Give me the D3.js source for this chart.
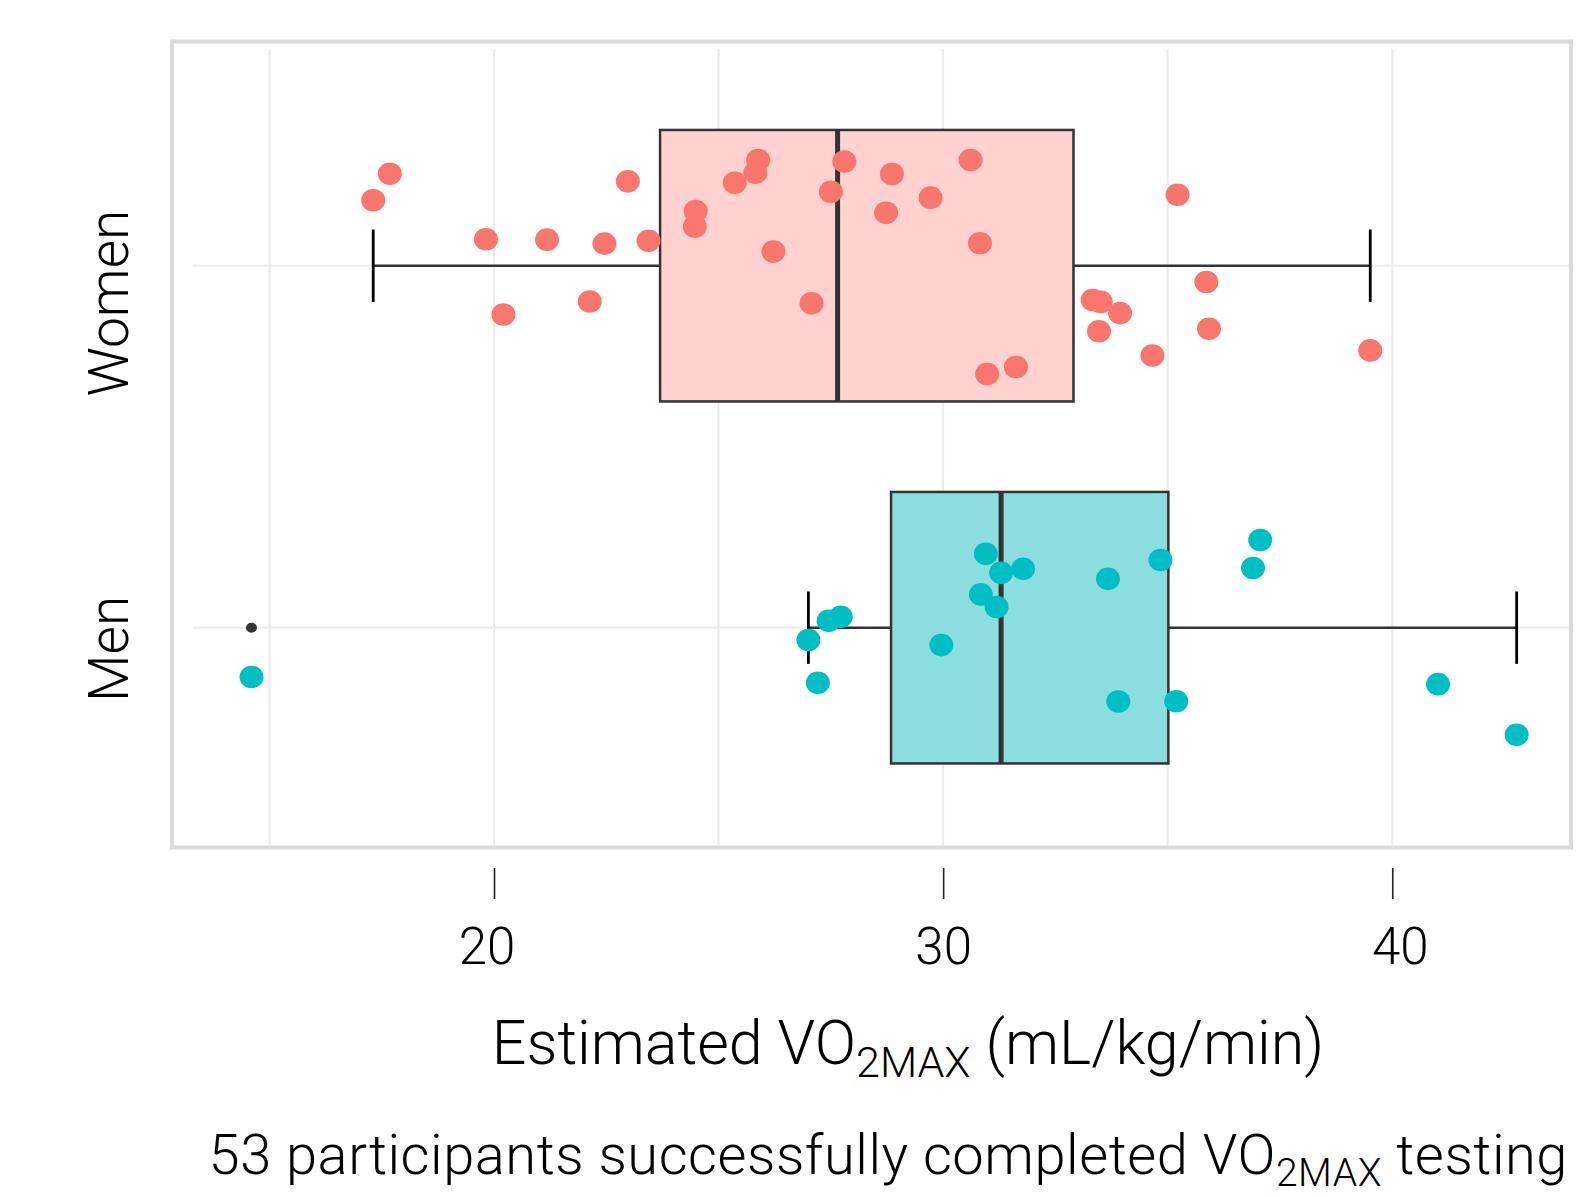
<!DOCTYPE html>
<html>
<head>
<meta charset="utf-8">
<script src="https://cdn.jsdelivr.net/npm/d3@7"></script>
<style>
  body { margin: 0; background: #fff; }
  text { font-family: Roboto, "Liberation Sans", sans-serif; font-weight: 300; fill: #000; }
</style>
</head>
<body>
<script>
// Data
const categories = ['Women', 'Men'];
const womenValues = [17.31, 17.68, 19.82, 20.21, 21.18, 22.13, 22.46, 22.98, 23.44, 24.47, 24.49, 25.36, 25.82, 25.88, 26.22, 27.07, 27.50, 27.80, 28.73, 28.86, 29.72, 30.61, 30.82, 30.98, 31.62, 33.33, 33.47, 33.51, 33.94, 34.66, 35.22, 35.86, 35.92, 39.51];
const womenJitter = [0.181, 0.254, 0.073, -0.135, 0.072, -0.099, 0.061, 0.233, 0.069, 0.108, 0.151, 0.229, 0.257, 0.292, 0.039, -0.104, 0.204, 0.288, 0.146, 0.253, 0.188, 0.292, 0.062, -0.299, -0.280, -0.095, -0.181, -0.100, -0.131, -0.248, 0.196, -0.045, -0.174, -0.234];
const menValues = [14.60, 27.00, 27.21, 27.45, 27.72, 29.96, 30.84, 30.95, 31.19, 31.29, 31.78, 33.67, 33.90, 34.84, 35.19, 36.90, 37.06, 41.02, 42.77];
const menJitter = [-0.136, -0.034, -0.152, 0.019, 0.030, -0.048, 0.092, 0.204, 0.057, 0.152, 0.163, 0.135, -0.204, 0.187, -0.203, 0.165, 0.242, -0.156, -0.296];
const majorTicks = [20, 30, 40];
const minorTicks = [15, 25, 35];
const pointColors = ['#F8766D', '#00BFC4'];
const boxFills = ['#FFD1CF', '#8BDDE0'];

const W = 1576, H = 1197;
const panel = { left: 172, right: 1571, top: 41.5, bottom: 847.5 };

const svg = d3.select('body')
  .append('svg')
  .attr('width', W)
  .attr('height', H);

// Scales
const x = d3.scaleLinear()
  .domain([12.83, 43.98])
  .range([panel.left, panel.right]);

const y = d3.scalePoint()
  .domain(categories)
  .range([265.7, 627.7]);

const step = y.step();

// Build groups + box stats (type 7 quantiles like ggplot)
const groups = categories.map((cat, i) => {
  const vals = i === 0 ? womenValues : menValues;
  const jit = i === 0 ? womenJitter : menJitter;
  const sorted = vals.slice().sort(d3.ascending);
  const q1 = d3.quantile(sorted, 0.25);
  const med = d3.quantile(sorted, 0.5);
  const q3 = d3.quantile(sorted, 0.75);
  const iqr = q3 - q1;
  const inside = sorted.filter(v => v >= q1 - 1.5 * iqr && v <= q3 + 1.5 * iqr);
  return {
    cat, q1, med, q3,
    lo: d3.min(inside), hi: d3.max(inside),
    outliers: sorted.filter(v => v < q1 - 1.5 * iqr || v > q3 + 1.5 * iqr),
    points: vals.map((v, k) => ({ v, j: jit[k] })),
    color: pointColors[i], fill: boxFills[i]
  };
});

// Gridlines
const grid = svg.append('g');
grid.selectAll('.vgrid')
  .data(minorTicks.concat(majorTicks))
  .enter().append('line')
  .attr('x1', d => x(d)).attr('x2', d => x(d))
  .attr('y1', 49).attr('y2', 845)
  .attr('stroke', '#EBEBEB')
  .attr('stroke-width', 2);

grid.selectAll('.hgrid')
  .data(categories)
  .enter().append('line')
  .attr('x1', 193).attr('x2', 1569)
  .attr('y1', d => y(d)).attr('y2', d => y(d))
  .attr('stroke', '#EBEBEB')
  .attr('stroke-width', 2);

// Panel border
svg.append('rect')
  .attr('x', panel.left).attr('y', panel.top)
  .attr('width', panel.right - panel.left)
  .attr('height', panel.bottom - panel.top)
  .attr('fill', 'none')
  .attr('stroke', '#DADADA')
  .attr('stroke-width', 4);

// Boxplots
const boxes = svg.selectAll('.box')
  .data(groups)
  .enter().append('g');

// whiskers
boxes.append('line')
  .attr('x1', d => x(d.lo)).attr('x2', d => x(d.q1))
  .attr('y1', d => y(d.cat)).attr('y2', d => y(d.cat))
  .attr('stroke', '#333').attr('stroke-width', 2.5);
boxes.append('line')
  .attr('x1', d => x(d.q3)).attr('x2', d => x(d.hi))
  .attr('y1', d => y(d.cat)).attr('y2', d => y(d.cat))
  .attr('stroke', '#333').attr('stroke-width', 2.5);

// error bar caps
['lo', 'hi'].forEach(k => {
  boxes.append('line')
    .attr('x1', d => x(d[k])).attr('x2', d => x(d[k]))
    .attr('y1', d => y(d.cat) - step * 0.1).attr('y2', d => y(d.cat) + step * 0.1)
    .attr('stroke', '#000').attr('stroke-width', 2.8);
});

boxes.append('rect')
  .attr('x', d => x(d.q1))
  .attr('width', d => x(d.q3) - x(d.q1))
  .attr('y', d => y(d.cat) - step * 0.375)
  .attr('height', step * 0.75)
  .attr('fill', d => d.fill)
  .attr('stroke', '#333')
  .attr('stroke-width', 2.5);

boxes.append('line')
  .attr('x1', d => x(d.med)).attr('x2', d => x(d.med))
  .attr('y1', d => y(d.cat) - step * 0.375).attr('y2', d => y(d.cat) + step * 0.375)
  .attr('stroke', '#333').attr('stroke-width', 5);

// outliers
boxes.selectAll('.outlier')
  .data(d => d.outliers.map(v => ({ v, cat: d.cat })))
  .enter().append('ellipse')
  .attr('cx', d => x(d.v))
  .attr('cy', d => y(d.cat))
  .attr('rx', 5.5).attr('ry', 5)
  .attr('fill', '#333');

// jittered points
boxes.selectAll('.pt')
  .data(d => d.points.map(p => ({ v: p.v, j: p.j, cat: d.cat, color: d.color })))
  .enter().append('ellipse')
  .attr('cx', d => x(d.v))
  .attr('cy', d => y(d.cat) - d.j * step)
  .attr('rx', 12).attr('ry', 11.3)
  .attr('fill', d => d.color);

// X axis
const xAxis = d3.axisBottom(x)
  .tickValues(majorTicks)
  .tickSize(31)
  .tickPadding(29);

const gx = svg.append('g')
  .attr('transform', 'translate(0, 868)')
  .call(xAxis);
gx.select('.domain').remove();
gx.selectAll('.tick line').attr('stroke', '#222').attr('stroke-width', 1.6);
gx.selectAll('.tick text')
  .attr('x', d => (d - 30) * 0.75)
  .style('font-family', 'Roboto, sans-serif')
  .style('font-weight', 300)
  .style('font-size', '51px')
  .attr('fill', '#000');

// Y labels (rotated)
categories.forEach(cat => {
  const t = svg.append('text')
    .attr('text-anchor', 'start')
    .style('font-size', '55px')
    .text(cat);
  const len = t.node().getComputedTextLength();
  t.attr('transform', `translate(128, ${y(cat) + 0.7 * len}) rotate(-90)`);
});

// Axis title
const title = svg.append('text')
  .attr('x', 908).attr('y', 1064)
  .attr('text-anchor', 'middle')
  .style('font-size', '61px');
title.append('tspan').text('Estimated VO');
title.append('tspan').attr('dy', 13).style('font-size', '43px').text('2MAX');
title.append('tspan').attr('dy', -13).text(' (mL/kg/min)');

// Caption
const cap = svg.append('text')
  .attr('x', 1568).attr('y', 1174)
  .attr('text-anchor', 'end')
  .style('font-size', '56px')
  .style('letter-spacing', '0.55px');
cap.append('tspan').text('53 participants successfully completed VO');
cap.append('tspan').attr('dy', 12).style('font-size', '39px').text('2MAX');
cap.append('tspan').attr('dy', -12).text(' testing');
</script>
</body>
</html>
